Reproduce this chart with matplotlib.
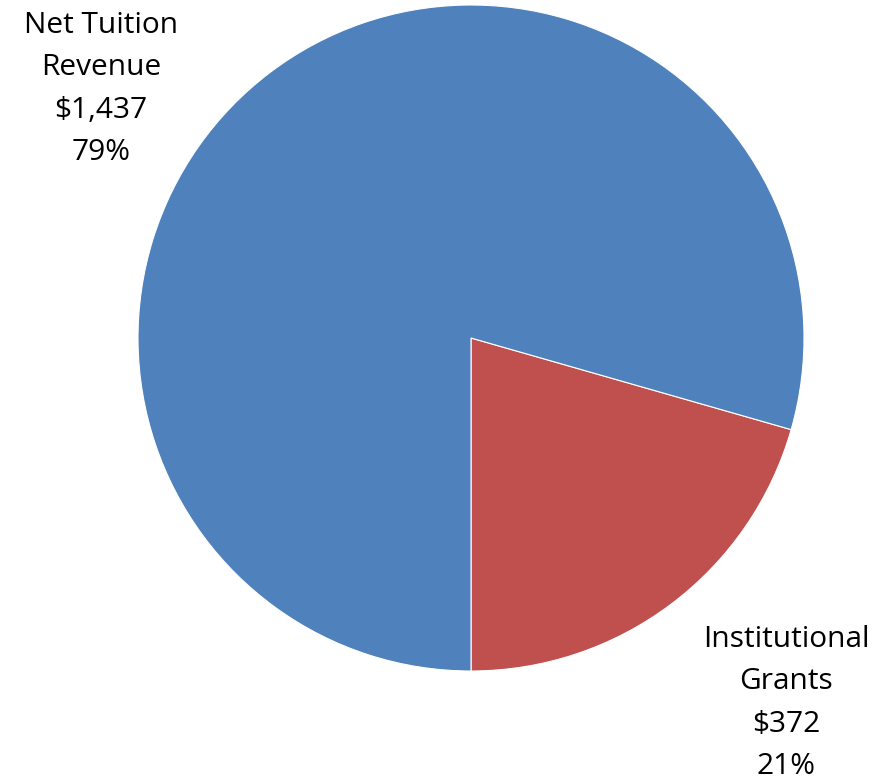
import matplotlib
matplotlib.use("Agg")
import matplotlib.pyplot as plt

categories = ["Institutional\nGrants", "Net Tuition\nRevenue"]
values = [372, 1437]
colors = ["#C0504D", "#4F81BD"]

W, H = 882, 781
fig = plt.figure(figsize=(W / 100, H / 100), dpi=100)
ax = fig.add_axes([0, 0, 1, 1])

cx, cy, r = 471, H - 338, 333
ax.pie(values, colors=colors, startangle=-90, counterclock=True,
       center=(cx, cy), radius=r, frame=True,
       wedgeprops=dict(edgecolor="white", linewidth=0.8))
ax.set_xlim(0, W)
ax.set_ylim(0, H)
ax.set_aspect("equal")
ax.axis("off")

total = sum(values)
label_pos = [(786, H - 703), (101, H - 89)]
for cat, v, (x, y) in zip(categories, values, label_pos):
    pct = round(100 * v / total)
    ax.text(x, y, f"{cat}\n${v:,}\n{pct}%", ha="center", va="center",
            fontsize=21.5, family="Open Sans", linespacing=1.62, color="black")

fig.savefig("out.png", dpi=100)
